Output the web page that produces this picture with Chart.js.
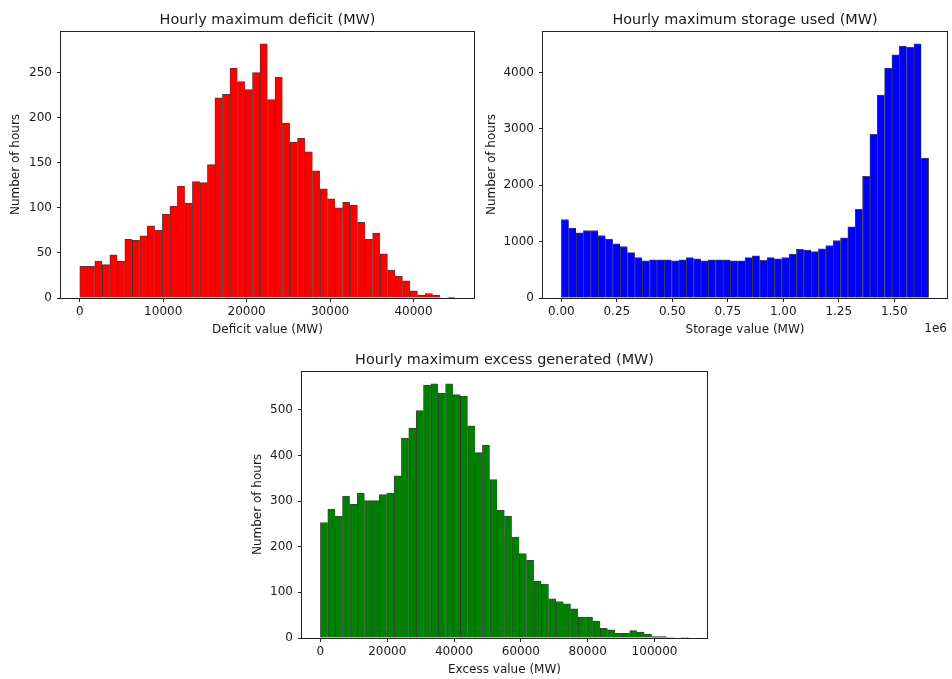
<!DOCTYPE html>
<html>
<head>
<meta charset="utf-8">
<script src="https://cdn.jsdelivr.net/npm/chart.js@4.4.1/dist/chart.umd.min.js"></script>
<style>
  html, body { margin: 0; padding: 0; background: #fff; }
  body { position: relative; width: 952px; height: 679px; overflow: hidden; }
  canvas { position: absolute; }
</style>
</head>
<body>
<canvas id="deficitChart" width="490" height="342" style="left:0;top:0"></canvas>
<canvas id="storageChart" width="472" height="342" style="left:480px;top:0"></canvas>
<canvas id="excessChart" width="480" height="339" style="left:240px;top:340px"></canvas>
<script>
// hourly deficit histogram, 50 bins over 0 .. 45000 MW
const deficitRange = [0, 45000];
const deficitCounts = [35, 35, 41, 37, 48, 41, 65, 64, 69, 80,
  75, 93, 102, 124, 105, 129, 128, 148, 222, 226,
  255, 240, 231, 250, 282, 220, 245, 194, 173, 177,
  162, 141, 121, 110, 100, 106, 103, 84, 65, 72,
  49, 31, 24, 19, 8, 3, 5, 3, 0, 1];
const deficitXTicks = [0, 10000, 20000, 30000, 40000];
const deficitYTicks = [0, 50, 100, 150, 200, 250];

// hourly storage used histogram, 50 bins over 0 .. 1.655e6 MW
const storageRange = [0, 1655000];
const storageCounts = [1393, 1239, 1156, 1197, 1197, 1108, 1045, 960, 913, 806,
  717, 658, 676, 676, 676, 658, 676, 717, 694, 658,
  676, 676, 676, 658, 658, 717, 747, 670, 717, 694,
  717, 777, 865, 848, 824, 871, 931, 1020, 1067, 1263,
  1571, 2158, 2905, 3598, 4078, 4315, 4470, 4446, 4511, 2484];
const storageXTicks = [0, 250000, 500000, 750000, 1000000, 1250000, 1500000];
const storageYTicks = [0, 1000, 2000, 3000, 4000];

// hourly excess generated histogram, 50 bins over 0 .. 110200 MW
const excessRange = [0, 110200];
const excessCounts = [253, 282, 267, 311, 293, 317, 301, 301, 314, 317,
  355, 438, 460, 498, 554, 557, 536, 557, 533, 530,
  465, 406, 422, 347, 280, 267, 221, 185, 170, 124,
  118, 86, 80, 75, 64, 46, 46, 37, 21, 18,
  10, 10, 16, 13, 8, 3, 3, 1, 0, 1];
const excessXTicks = [0, 20000, 40000, 60000, 80000, 100000];
const excessYTicks = [0, 100, 200, 300, 400, 500];

const FONT = 'DejaVu Sans';
const TEXT = '#1a1a1a';
const SIZE = 12;

// box around the plot area, like matplotlib spines
const framePlugin = {
  id: 'frame',
  afterDatasetsDraw(chart) {
    const { ctx, chartArea: a } = chart;
    ctx.save();
    ctx.strokeStyle = '#222';
    ctx.lineWidth = 1;
    ctx.strokeRect(Math.round(a.left) - 0.5, Math.round(a.top) + 0.5,
      Math.round(a.right - a.left) + 1, Math.round(a.bottom - a.top));
    ctx.restore();
  }
};

// title centred over the plot area rather than the whole canvas,
// plus the optional scientific offset label under the x axis
const axesTextPlugin = {
  id: 'axesText',
  afterDraw(chart, args, opts) {
    const { ctx, chartArea: a } = chart;
    ctx.save();
    ctx.fillStyle = TEXT;
    ctx.font = '14.4px "' + FONT + '"';
    ctx.textAlign = 'center';
    ctx.textBaseline = 'alphabetic';
    ctx.fillText(opts.title, (a.left + a.right) / 2, a.top - 7);
    if (opts.offsetText) {
      ctx.font = SIZE + 'px "' + FONT + '"';
      ctx.textAlign = 'right';
      ctx.textBaseline = 'middle';
      ctx.fillText(opts.offsetText, a.right, opts.offsetY);
    }
    ctx.restore();
  }
};

function histogram(id, cfg) {
  const [lo, hi] = cfg.range;
  const n = cfg.counts.length;
  const w = (hi - lo) / n;
  const points = cfg.counts.map((c, i) => ({ x: lo + (i + 0.5) * w, y: c }));
  const margin = 0.05 * (hi - lo);
  const yMax = 1.05 * Math.max(...cfg.counts);

  return new Chart(document.getElementById(id), {
    type: 'bar',
    data: {
      datasets: [{
        data: points,
        backgroundColor: cfg.color,
        borderColor: 'rgba(0, 0, 0, 0.75)',
        borderWidth: (c) => ({ top: 1, left: 1, bottom: 0, right: c.dataIndex === n - 1 ? 1 : 0 }),
        borderSkipped: false,
        barPercentage: 1,
        categoryPercentage: 1,
      }]
    },
    options: {
      responsive: false,
      animation: false,
      layout: { padding: { left: 0, right: cfg.padRight, top: 31, bottom: 0 } },
      plugins: {
        legend: { display: false },
        tooltip: { enabled: false },
        title: { display: false },
        axesText: { title: cfg.title, offsetText: cfg.offsetText, offsetY: cfg.offsetY },
      },
      scales: {
        x: {
          type: 'linear',
          offset: false,
          min: lo - margin,
          max: hi + margin,
          afterBuildTicks: (s) => { s.ticks = cfg.xTicks.map((v) => ({ value: v })); },
          afterFit: (s) => { s.height = cfg.xHeight; },
          border: { display: false },
          grid: { offset: false, drawOnChartArea: false, tickLength: 4, color: '#222' },
          ticks: {
            color: TEXT,
            padding: 3,
            maxRotation: 0,
            font: { family: FONT, size: SIZE },
            callback: cfg.xFormat || ((v) => String(v)),
          },
          title: {
            display: true,
            text: cfg.xTitle,
            color: TEXT,
            font: { family: FONT, size: SIZE },
            padding: { top: 0, bottom: cfg.xTitlePad },
          },
        },
        y: {
          min: 0,
          max: yMax,
          afterBuildTicks: (s) => { s.ticks = cfg.yTicks.map((v) => ({ value: v })); },
          afterFit: (s) => { s.width = cfg.yWidth; },
          border: { display: false },
          grid: { drawOnChartArea: false, tickLength: 4, color: '#222' },
          ticks: {
            color: TEXT,
            padding: 5,
            font: { family: FONT, size: SIZE },
            callback: (v) => String(v),
          },
          title: {
            display: true,
            text: 'Number of hours',
            color: TEXT,
            font: { family: FONT, size: SIZE },
            padding: { top: cfg.yTitlePad, bottom: 0 },
          },
        },
      },
    },
    plugins: [framePlugin, axesTextPlugin],
  });
}

histogram('deficitChart', {
  title: 'Hourly maximum deficit (MW)',
  xTitle: 'Deficit value (MW)',
  range: deficitRange,
  counts: deficitCounts,
  xTicks: deficitXTicks,
  yTicks: deficitYTicks,
  color: '#ff0000',
  padRight: 16,
  yWidth: 61,
  xHeight: 44,
  xTitlePad: 4.8,
  yTitlePad: 8.8,
});

histogram('storageChart', {
  title: 'Hourly maximum storage used (MW)',
  xTitle: 'Storage value (MW)',
  range: storageRange,
  counts: storageCounts,
  xTicks: storageXTicks,
  yTicks: storageYTicks,
  xFormat: (v) => (v / 1e6).toFixed(2),
  offsetText: '1e6',
  offsetY: 329,
  color: '#0000ff',
  padRight: 5,
  yWidth: 63,
  xHeight: 44,
  xTitlePad: 4.8,
  yTitlePad: 4.8,
});

histogram('excessChart', {
  title: 'Hourly maximum excess generated (MW)',
  xTitle: 'Excess value (MW)',
  range: excessRange,
  counts: excessCounts,
  xTicks: excessXTicks,
  yTicks: excessYTicks,
  color: '#008000',
  padRight: 13,
  yWidth: 62,
  xHeight: 41,
  xTitlePad: 1.8,
  yTitlePad: 10.8,
});
</script>
</body>
</html>
